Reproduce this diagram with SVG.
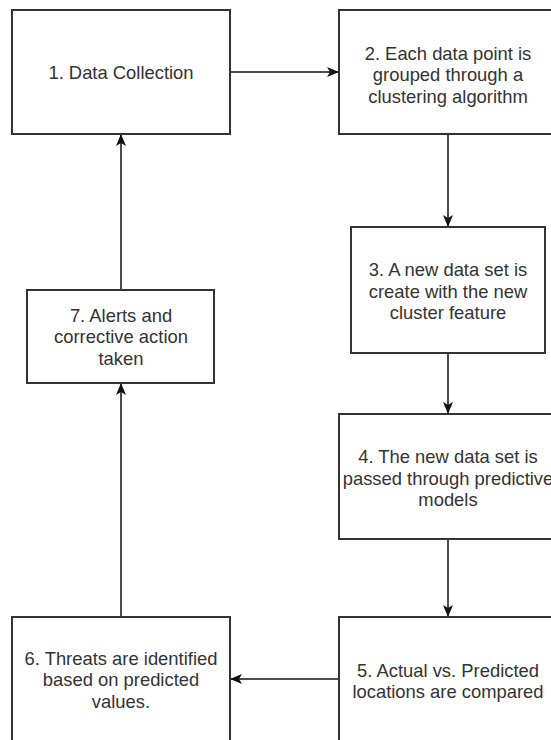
<svg xmlns="http://www.w3.org/2000/svg" width="551" height="740" viewBox="0 0 551 740">
<style>
.box{fill:#fff;stroke:#333;stroke-width:2}
.lbl{font-family:"Liberation Sans",Arial,sans-serif;font-size:18.4px;fill:#333;text-anchor:middle}
.edge{stroke:#111;stroke-width:1.5;fill:none;marker-end:url(#arr)}
</style>
<defs>
<marker id="arr" markerUnits="userSpaceOnUse" markerWidth="13" markerHeight="11" viewBox="0 0 13 11" refX="12" refY="5.5" orient="auto">
<path d="M0,0.5 L12,5.5 L0,10.5 L3,5.5 z" fill="#111"/>
</marker>
</defs>
<rect width="551" height="740" fill="#fff"/>
<g id="connectors">
<line class="edge" x1="230" y1="72" x2="339" y2="72"/>
<line class="edge" x1="448" y1="134" x2="448" y2="227"/>
<line class="edge" x1="448" y1="353" x2="448" y2="414"/>
<line class="edge" x1="448" y1="539" x2="448" y2="617"/>
<line class="edge" x1="339" y1="679" x2="230" y2="679"/>
<line class="edge" x1="121" y1="617" x2="121" y2="383"/>
<line class="edge" x1="121" y1="290" x2="121" y2="134"/>
</g>
<g id="n1">
<rect class="box" x="12" y="10" width="218" height="124"/>
<text class="lbl" x="121" y="79">1. Data Collection</text>
</g>
<g id="n2">
<rect class="box" x="339" y="10" width="218" height="124"/>
<text class="lbl" x="448" y="59.5">2. Each data point is</text>
<text class="lbl" x="448" y="81">grouped through a</text>
<text class="lbl" x="448" y="102.5">clustering algorithm</text>
</g>
<g id="n3">
<rect class="box" x="351" y="227" width="194" height="126"/>
<text class="lbl" x="448" y="276">3. A new data set is</text>
<text class="lbl" x="448" y="297.5">create with the new</text>
<text class="lbl" x="448" y="319">cluster feature</text>
</g>
<g id="n4">
<rect class="box" x="339" y="414" width="218" height="125"/>
<text class="lbl" x="448" y="463">4. The new data set is</text>
<text class="lbl" x="448" y="484.5">passed through predictive</text>
<text class="lbl" x="448" y="506">models</text>
</g>
<g id="n5">
<rect class="box" x="339" y="617" width="218" height="124"/>
<text class="lbl" x="448" y="676.5">5. Actual vs. Predicted</text>
<text class="lbl" x="448" y="698">locations are compared</text>
</g>
<g id="n6">
<rect class="box" x="12" y="617" width="218" height="124"/>
<text class="lbl" x="121" y="664.5">6. Threats are identified</text>
<text class="lbl" x="121" y="686">based on predicted</text>
<text class="lbl" x="121" y="707.5">values.</text>
</g>
<g id="n7">
<rect class="box" x="27" y="290" width="187" height="93"/>
<text class="lbl" x="121" y="321.5">7. Alerts and</text>
<text class="lbl" x="121" y="343">corrective action</text>
<text class="lbl" x="121" y="364.5">taken</text>
</g>
</svg>
